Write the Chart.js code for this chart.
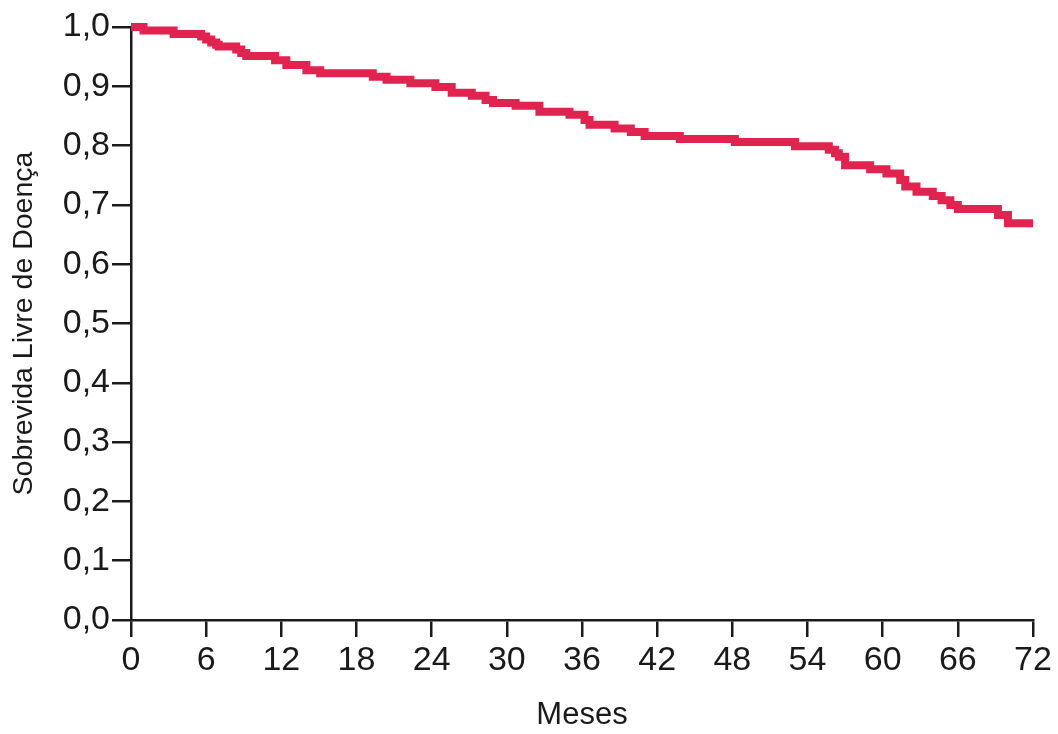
<!DOCTYPE html>
<html>
<head>
<meta charset="utf-8">
<script src="https://cdn.jsdelivr.net/npm/chart.js@4"></script>
<style>
  body { margin: 0; background: #fff; }
  #wrap { width: 1058px; height: 734px; }
</style>
</head>
<body>
<div id="wrap"><canvas id="km"></canvas></div>
<script>
// Kaplan-Meier curve (month, survival)
const months = [0, 1, 3.4, 5.6, 6.0, 6.4, 6.8, 7.0, 8.4, 8.8, 9.2, 11.5, 12.4, 14, 15.1,
  19.3, 20.4, 22.3, 24.3, 25.6, 27.2, 28.3, 28.9, 30.7, 32.6, 35, 36.2, 36.6, 38.6, 39.9,
  41, 43.8, 48.2, 53, 55.7, 56.2, 56.5, 57, 59, 60.3, 61.4, 61.8, 62.7, 64, 64.7, 65.4,
  66.0, 69.2, 70, 72];
const survival = [1.0, 0.994, 0.988, 0.984, 0.979, 0.974, 0.970, 0.967, 0.962, 0.956,
  0.951, 0.944, 0.936, 0.927, 0.922, 0.916, 0.911, 0.905, 0.899, 0.889, 0.884, 0.877,
  0.872, 0.867, 0.857, 0.852, 0.843, 0.835, 0.829, 0.823, 0.816, 0.811, 0.806, 0.799,
  0.793, 0.787, 0.781, 0.767, 0.760, 0.753, 0.742, 0.731, 0.722, 0.715, 0.708, 0.700,
  0.693, 0.683, 0.669, 0.669];
const xTicks = [0, 6, 12, 18, 24, 30, 36, 42, 48, 54, 60, 66, 72];
const yTicks = [0, 0.1, 0.2, 0.3, 0.4, 0.5, 0.6, 0.7, 0.8, 0.9, 1.0];

const points = months.map(function (m, i) {
  return { x: m, y: survival[i] };
});

const font = "'Liberation Sans', Arial, sans-serif";
const ink = "#1a1a1a";

const ctx = document.getElementById("km").getContext("2d");
const chart = new Chart(ctx, {
  type: "line",
  data: {
    datasets: [
      {
        label: "Sobrevida Livre de Doença",
        data: points,
        stepped: "before",
        borderColor: "#e0234f",
        borderWidth: 8,
        pointRadius: 0,
        fill: false,
        clip: false,
      },
    ],
  },
  options: {
    responsive: true,
    maintainAspectRatio: false,
    animation: false,
    layout: { padding: { top: 27, right: 25, left: 7, bottom: 0 } },
    plugins: { legend: { display: false }, tooltip: { enabled: false } },
    scales: {
      x: {
        type: "linear",
        min: 0,
        max: 72,
        afterBuildTicks: function (scale) {
          scale.ticks = xTicks.map(function (v) { return { value: v }; });
        },
        afterFit: function (scale) { scale.height = 114; },
        grid: {
          drawOnChartArea: false,
          drawTicks: true,
          tickLength: 17,
          color: ink,
          lineWidth: 2.5,
        },
        border: { color: ink, width: 2.5 },
        ticks: {
          color: ink,
          font: { family: font, size: 34 },
          padding: 3,
          maxRotation: 0,
        },
        title: {
          display: true,
          text: "Meses",
          color: ink,
          font: { family: font, size: 31 },
          padding: { top: 4, bottom: 0 },
        },
      },
      y: {
        type: "linear",
        min: 0,
        max: 1,
        afterBuildTicks: function (scale) {
          scale.ticks = yTicks.map(function (v) { return { value: v }; });
        },
        afterFit: function (scale) { scale.width = 124; },
        grid: {
          drawOnChartArea: false,
          drawTicks: true,
          tickLength: 19,
          color: ink,
          lineWidth: 2.5,
        },
        border: { color: ink, width: 2.5 },
        ticks: {
          color: ink,
          font: { family: font, size: 34 },
          padding: 2,
          callback: function (v) { return v.toFixed(1).replace(".", ","); },
        },
        title: {
          display: true,
          text: "Sobrevida Livre de Doença",
          color: ink,
          font: { family: font, size: 28.5 },
          padding: { top: 0, bottom: 6 },
        },
      },
    },
  },
});
</script>
</body>
</html>
